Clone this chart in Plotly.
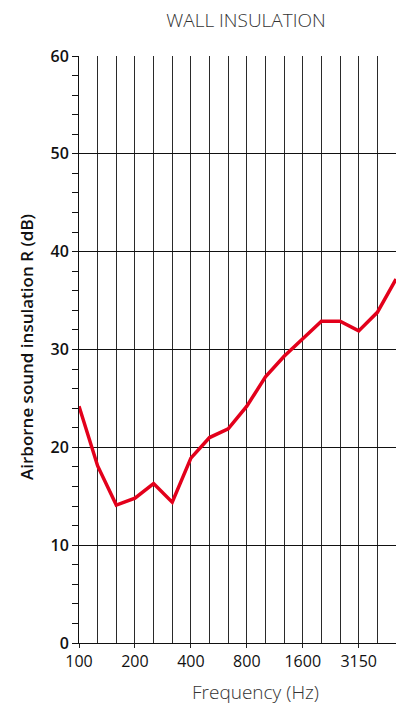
import plotly.graph_objects as go

frequencies = [100, 125, 160, 200, 250, 315, 400, 500, 630, 800, 1000, 1250,
               1600, 2000, 2500, 3150, 4000, 5000]
insulation_db = [24.2, 18.1, 14.1, 14.8, 16.3, 14.4, 18.9, 21.0, 21.9, 24.2,
                 27.2, 29.3, 31.1, 32.9, 32.9, 31.9, 33.8, 37.2]
x_tick_labels = ["100", "200", "400", "800", "1600", "3150"]
x_tick_freqs = [100, 200, 400, 800, 1600, 3150]

x_idx = list(range(len(frequencies)))
x_tick_pos = [frequencies.index(f) for f in x_tick_freqs]

fig = go.Figure()
fig.add_trace(go.Scatter(
    x=x_idx, y=insulation_db, mode="lines",
    line=dict(color="#e3001b", width=3.5),
    hoverinfo="skip", showlegend=False,
))

# page body has an 8px margin, so figure coordinates = screen - 8
OFF = 8
W, H = 396, 700
L, T = 79 - OFF, 56 - OFF
R = W - (396 - OFF)
B = H - (643 - OFF)
PW, PH = W - L - R, H - T - B

def px(x):
    return (x - OFF - L) / PW

def py(y):
    return (H - B - (y - OFF)) / PH

fig.update_layout(
    width=W, height=H,
    margin=dict(l=L, r=R, t=T, b=B),
    paper_bgcolor="white", plot_bgcolor="white",
    font=dict(family="Open Sans, DejaVu Sans, sans-serif", color="#1a1a1a"),
    xaxis=dict(
        range=[0, len(frequencies) - 1],
        tickmode="array", tickvals=x_tick_pos, ticktext=x_tick_labels,
        ticks="outside", ticklen=4, tickcolor="#222", tickwidth=1,
        showgrid=True, gridcolor="#2a2a2a", gridwidth=1,
        minor=dict(dtick=1, tick0=0, showgrid=True, gridcolor="#2a2a2a", gridwidth=1, ticks=""),
        showline=True, linecolor="#111", linewidth=1,
        zeroline=False,
        tickfont=dict(size=16, color="#111"),
        fixedrange=True,
    ),
    yaxis=dict(
        range=[0, 60], dtick=10, tick0=0,
        ticks="outside", ticklen=6, tickcolor="#111", tickwidth=1,
        showgrid=True, gridcolor="#111", gridwidth=1,
        minor=dict(dtick=2, tick0=0, ticks="outside", ticklen=6, tickcolor="#111", showgrid=False),
        showline=True, linecolor="#111", linewidth=1,
        zeroline=False,
        tickfont=dict(size=16, color="#111", weight=600),
        fixedrange=True,
    ),
    title=dict(
        text="WALL INSULATION", xref="container", yref="container",
        x=(246 - OFF) / W, y=1 - (20 - OFF) / H, xanchor="center", yanchor="middle",
        font=dict(size=19, color="#333", weight=300),
    ),
    annotations=[
        dict(text="Frequency (Hz)", xref="paper", yref="paper",
             x=px(255), y=py(692),
             xanchor="center", yanchor="middle", showarrow=False,
             font=dict(size=19, color="#333", weight=300)),
        dict(text="Airborne sound insulation R (dB)", xref="paper", yref="paper",
             x=px(26), y=py(347),
             xanchor="center", yanchor="middle", showarrow=False, textangle=-90,
             font=dict(size=17, color="#111", weight=600)),
    ],
)

fig.write_html("out.html")
